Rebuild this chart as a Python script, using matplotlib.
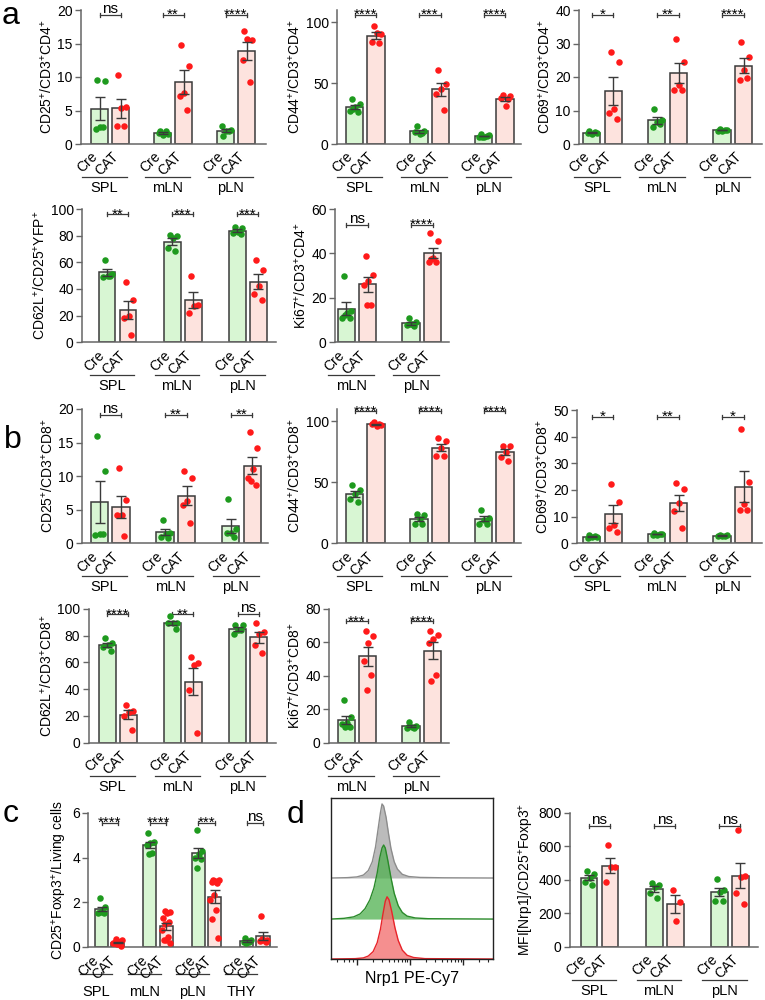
import numpy as np
import matplotlib
matplotlib.use('Agg')
import matplotlib.pyplot as plt
from matplotlib.transforms import offset_copy

plt.rcParams['font.family'] = ['Liberation Sans', 'DejaVu Sans']
plt.rcParams['mathtext.fontset'] = 'custom'
plt.rcParams['mathtext.rm'] = 'Liberation Sans'
plt.rcParams['mathtext.it'] = 'Liberation Sans:italic'
plt.rcParams['mathtext.bf'] = 'Liberation Sans:bold'

W, H = 765, 1000

# ---------------- data ----------------
GENOTYPES = ['Cre', 'CAT']
TISSUES_3 = ['SPL', 'mLN', 'pLN']
TISSUES_2 = ['mLN', 'pLN']
TISSUES_4 = ['SPL', 'mLN', 'pLN', 'THY']

# panel a (CD4)
a_cd25_cre = [[9.6, 9.4, 2.6, 2.3, 2.5], [2.0, 1.5, 1.4, 1.6, 1.9], [1.2, 2.1, 2.0, 2.7, 1.9]]
a_cd25_cat = [[10.3, 5.5, 5.3, 2.7, 2.7], [14.8, 11.7, 7.6, 7.2, 5.1], [16.8, 15.5, 15.6, 12.5, 9.2]]
a_cd25_sig = ['ns', '**', '****']

a_cd44_cre = [[37, 33, 30, 27, 26, 29], [15, 11, 8, 10, 9], [8, 7, 6, 6, 6.5, 6]]
a_cd44_cat = [[97, 90, 91, 84, 83], [61, 49, 45, 41, 28], [40, 39, 31, 38, 37]]
a_cd44_sig = ['****', '***', '****']

a_cd69_cre = [[4.0, 3.3, 3.0, 3.2, 3.5], [10.4, 7.2, 6.5, 5.0, 6.0], [4.5, 4.2, 4.0, 3.8, 4.3]]
a_cd69_cat = [[27.4, 24.6, 10.4, 9.2, 7.4], [31.4, 24.4, 17.6, 16.1, 16.1], [30.4, 25.9, 22.0, 19.1, 19.6]]
a_cd69_sig = ['*', '**', '****']

a_cd62l_cre = [[62, 51, 50, 49, 50], [80.5, 80, 78.5, 70.5, 68.5], [86.5, 86, 83, 82, 81]]
a_cd62l_cat = [[45.5, 31.5, 20, 18.5, 5.5], [50, 28, 27, 22], [62, 54.5, 42.5, 36, 32]]
a_cd62l_sig = ['**', '***', '***']

a_ki67_cre = [[29.8, 14.2, 13, 10.8, 10.8, 12.5], [10.8, 9.2, 8.2, 7.6, 7.2, 8.2]]
a_ki67_cat = [[39, 30.5, 27.5, 26, 17, 17], [49, 45.5, 37.8, 36, 36, 37.5]]
a_ki67_sig = ['ns', '****']

# panel b (CD8)
b_cd25_cre = [[16, 10.8, 1.35, 1.3, 1.35], [3.5, 1.6, 1.4, 1.0, 0.8], [6.6, 2.1, 1.6, 1.5, 0.9]]
b_cd25_cat = [[11.2, 6.5, 4.2, 4.2, 1.1], [10.8, 9.7, 6.3, 5.7, 3.0], [16.6, 14.2, 11.0, 9.7, 8.7, 9.3]]
b_cd25_sig = ['ns', '**', '**']

b_cd44_cre = [[47.5, 43.5, 40, 36, 33.5], [24.3, 23.5, 20, 15.7, 15.7], [27.6, 21, 19, 16.2, 16.2]]
b_cd44_cat = [[99, 97, 96, 97.5, 98], [86, 84, 78, 71.6, 71.6], [80, 79.5, 75, 71, 67]]
b_cd44_sig = ['****', '****', '****']

b_cd69_cre = [[3.0, 2.5, 2.2, 2.0, 2.6], [3.8, 3.5, 3.3, 3.2, 3.4], [3.2, 3.0, 2.8, 2.6, 2.9]]
b_cd69_cat = [[22.1, 15.5, 6.9, 5.9, 4.4], [22.75, 20.25, 15, 12.1, 5.9], [43, 23, 14.75, 12.5, 12.5]]
b_cd69_sig = ['*', '**', '*']

b_cd62l_cre = [[78.5, 74.5, 73.2, 71.5, 68.7], [94.7, 89.8, 89.8, 89.8, 84.8], [88, 88, 84.3, 81.3, 84]]
b_cd62l_cat = [[28.25, 23.75, 23.25, 20, 9.5], [64, 59.5, 58.25, 39.5, 7.5], [89.5, 83, 81, 73, 67]]
b_cd62l_sig = ['****', '**', 'ns']

b_ki67_cre = [[25.6, 15.2, 12, 11, 9.2, 9.2], [12.5, 10, 9.5, 9, 8.8]]
b_ki67_cat = [[66.6, 64, 59.6, 48.6, 40.6, 31.6], [66.6, 64.2, 62, 59.6, 40.6, 37.2]]
b_ki67_sig = ['***', '****']

# panel c (Treg frequency)
c_treg_cre = [[2.2, 1.8, 1.6, 1.5, 1.5, 1.55], [5.1, 4.7, 4.65, 4.55, 4.2, 4.15],
              [5.25, 4.3, 4.15, 4.0, 3.95, 3.55], [0.4, 0.3, 0.25, 0.2, 0.2, 0.15]]
c_treg_cat = [[0.35, 0.3, 0.2, 0.15, 0.1, 0.1, 0.15, 0.2, 0.25, 0.05],
              [1.6, 1.55, 1.5, 1.3, 1.1, 1.0, 0.75, 0.45, 0.3, 0.15, 0.3],
              [3.0, 3.0, 2.95, 2.9, 2.85, 2.3, 2.1, 1.65, 1.25, 0.4],
              [1.4, 0.3, 0.3, 0.25, 0.2, 0.35]]
c_treg_sig = ['****', '****', '***', 'ns']

# panel d (Nrp1 MFI)
d_mfi_cre = [[455, 435, 410, 390, 370], [380, 370, 360, 320, 290], [404, 340, 330, 276, 276]]
d_mfi_cat = [[606, 474, 474, 388], [340, 266, 156], [700, 426, 420, 320, 256]]
d_mfi_sig = ['ns', 'ns', 'ns']

# panel d histograms (x: position across plot 0-100, y: % of mode)
hist_gray_x = [0, 10, 16, 20, 23, 25.5, 27.5, 29, 30.5, 31.5, 32.5, 34, 35.5, 37, 39, 41, 44, 48, 55, 70, 100]
hist_gray_y = [0, 0.5, 1.5, 4, 10, 22, 42, 65, 88, 100, 97, 82, 60, 40, 22, 12, 5, 2, 0.8, 0.3, 0]
hist_green_x = [0, 8, 14, 18, 21, 24, 26.5, 28.5, 30, 31.5, 32.5, 33.5, 35, 37, 39, 41.5, 44, 47, 52, 60, 100]
hist_green_y = [0, 1, 3, 7, 14, 26, 42, 62, 82, 96, 100, 96, 80, 56, 35, 18, 9, 4, 1.5, 0.5, 0]
hist_red_x = [0, 15, 20, 23, 26, 28.5, 30.5, 32, 33.5, 34.6, 35.8, 37.5, 39.5, 41.5, 44, 47, 51, 58, 100]
hist_red_y = [0, 0.5, 1.5, 4, 10, 22, 40, 60, 78, 84, 80, 64, 42, 25, 12, 5, 2, 0.5, 0]

# ---------------- style ----------------
CRE_FILL = '#d8f6d3'
CAT_FILL = '#fde3de'
CRE_DOT = '#1e9a1e'
CAT_DOT = '#ff1a1a'
EDGE = '#3a3a3a'
AXC = '#666666'
FS_TICK = 10
FS_LAB = 10
FS_GENO = 10
FS_GROUP = 10.5
FS_SIG = 11

fig = plt.figure(figsize=(W / 100, H / 100), dpi=100)


def jitter(n):
    i = np.arange(n)
    return ((i * 0.618 + 0.31) % 1.0 - 0.5) * 0.56


def bar_panel(geom, tissues, cre, cat, sig, ylabel, yticks,
              line_px=33, text_px=44, span=(0.83, 0.3), geo_off=(0.5, -4.0)):
    left, right, zero, top, c0, u, step, ymax, br = geom
    ax = fig.add_axes([left / W, 1 - zero / H, (right - left) / W, (zero - top) / H])
    ax.set_xlim((left - c0) / u, (right - c0) / u)
    ax.set_ylim(0, ymax)
    ppu = (zero - top) / ymax
    for s in ['top', 'right']:
        ax.spines[s].set_visible(False)
    for s in ['left', 'bottom']:
        ax.spines[s].set_color(AXC)
        ax.spines[s].set_linewidth(1.1)
    ax.set_xticks([])
    ax.set_yticks(yticks)
    ax.tick_params(axis='y', direction='out', length=4, width=1.0, color=AXC,
                   labelsize=FS_TICK, pad=2)
    ax.set_ylabel(ylabel, fontsize=FS_LAB, labelpad=2)
    tline = offset_copy(ax.get_xaxis_transform(), fig=fig, x=0, y=-line_px, units='dots')
    ttext = offset_copy(ax.get_xaxis_transform(), fig=fig, x=0, y=-text_px, units='dots')
    for g, tissue in enumerate(tissues):
        xc = g * step
        for k, (vals, fill, dot) in enumerate([(cre[g], CRE_FILL, CRE_DOT),
                                               (cat[g], CAT_FILL, CAT_DOT)]):
            x = xc + k
            v = np.asarray(vals, float)
            m = v.mean()
            se = v.std(ddof=1) / np.sqrt(len(v))
            ax.bar(x, m, width=0.8, color=fill, edgecolor=EDGE, linewidth=1.1, zorder=2)
            ax.scatter(x + jitter(len(v)), v, s=22, color=dot, linewidths=0,
                       zorder=3, clip_on=False)
            ax.errorbar(x, m, yerr=se, fmt='none', ecolor=EDGE, elinewidth=1.0,
                        capsize=3.5, capthick=1.0, zorder=4)
            ax.annotate(GENOTYPES[k], xy=(x, 0), xytext=geo_off,
                        textcoords='offset points', ha='right', va='top',
                        rotation=45, fontsize=FS_GENO, annotation_clip=False)
        # group underline and label
        x0, x1 = xc - span[0], xc + 1 + span[1]
        ax.plot([x0, x1], [0, 0], color=EDGE, lw=0.9, transform=tline, clip_on=False)
        ax.text((x0 + x1) / 2, 0, tissue, transform=ttext, ha='center', va='center',
                fontsize=FS_GROUP, clip_on=False)
        # significance bracket
        t = 2.0 / ppu
        ax.plot([xc, xc], [br - t, br + t], color=EDGE, lw=0.9, clip_on=False)
        ax.plot([xc + 1, xc + 1], [br - t, br + t], color=EDGE, lw=0.9, clip_on=False)
        ax.plot([xc, xc + 1], [br, br], color=EDGE, lw=0.9, clip_on=False)
        off = 2.0 if sig[g] == 'ns' else -4.0
        ax.annotate(sig[g], xy=(xc + 0.5, br), xytext=(0, off * 0.72),
                    textcoords='offset points', ha='center', va='baseline',
                    fontsize=FS_SIG, annotation_clip=False)
    return ax


# geometry: left, right, zero_y, top_y, first_center_x, unit_px, group_step, ymax, bracket_y
bar_panel((81, 266, 144, 10, 99.5, 21, 3.0, 20, 19.25), TISSUES_3, a_cd25_cre, a_cd25_cat,
          a_cd25_sig, 'CD25$^{+}$/CD3$^{+}$CD4$^{+}$', [0, 5, 10, 15, 20])
bar_panel((337, 521, 144, 10, 354.5, 21.5, 3.0, 110, 106), TISSUES_3, a_cd44_cre, a_cd44_cat,
          a_cd44_sig, 'CD44$^{+}$/CD3$^{+}$CD4$^{+}$', [0, 50, 100])
bar_panel((579, 762, 144, 10, 591.7, 21.7, 3.0, 40, 38.5), TISSUES_3, a_cd69_cre, a_cd69_cat,
          a_cd69_sig, 'CD69$^{+}$/CD3$^{+}$CD4$^{+}$', [0, 10, 20, 30, 40])
bar_panel((82, 276, 342.3, 209, 107, 21, 3.1, 100, 96), TISSUES_3, a_cd62l_cre, a_cd62l_cat,
          a_cd62l_sig, 'CD62L$^{+}$/CD25$^{+}$YFP$^{+}$', [0, 20, 40, 60, 80, 100])
bar_panel((335, 449, 342.3, 209, 346.2, 21.6, 3.0, 60, 52.7), TISSUES_2, a_ki67_cre, a_ki67_cat,
          a_ki67_sig, 'Ki67$^{+}$/CD3$^{+}$CD4$^{+}$', [0, 20, 40, 60])

bar_panel((82, 268, 543.3, 409, 99.5, 21.5, 3.05, 20, 19.1), TISSUES_3, b_cd25_cre, b_cd25_cat,
          b_cd25_sig, 'CD25$^{+}$/CD3$^{+}$CD8$^{+}$', [0, 5, 10, 15, 20])
bar_panel((337, 521, 543.3, 409, 354.5, 21.5, 3.0, 110, 108), TISSUES_3, b_cd44_cre, b_cd44_cat,
          b_cd44_sig, 'CD44$^{+}$/CD3$^{+}$CD8$^{+}$', [0, 50, 100])
bar_panel((577, 762, 543.3, 410, 591.7, 21.7, 3.0, 50, 47.5), TISSUES_3, b_cd69_cre, b_cd69_cat,
          b_cd69_sig, 'CD69$^{+}$/CD3$^{+}$CD8$^{+}$', [0, 10, 20, 30, 40, 50])
bar_panel((88.5, 276, 742.7, 609, 107.3, 21, 3.1, 100, 96), TISSUES_3, b_cd62l_cre, b_cd62l_cat,
          b_cd62l_sig, 'CD62L$^{+}$/CD3$^{+}$CD8$^{+}$', [0, 20, 40, 60, 80, 100])
bar_panel((329, 449, 742.7, 609, 346.2, 21.6, 3.0, 80, 72.6), TISSUES_2, b_ki67_cre, b_ki67_cat,
          b_ki67_sig, 'Ki67$^{+}$/CD3$^{+}$CD8$^{+}$', [0, 20, 40, 60, 80])

bar_panel((88.3, 277, 946.7, 813, 101.5, 16.4, 2.95, 6, 5.57), TISSUES_4, c_treg_cre, c_treg_cat,
          c_treg_sig, 'CD25$^{+}$Foxp3$^{+}$/Living cells', [0, 2, 4, 6],
          line_px=27, text_px=45, span=(1.33, -0.35), geo_off=(0.0, -4.5))
bar_panel((570, 758, 946.7, 813, 589, 21, 3.1, 800, 720), TISSUES_3, d_mfi_cre, d_mfi_cat,
          d_mfi_sig, 'MFI[Nrp1]/CD25$^{+}$Foxp3$^{+}$', [0, 200, 400, 600, 800])

# ---------------- histogram panel ----------------
axh = fig.add_axes([331 / W, 1 - 959 / H, 162 / W, 161 / H])
axh.set_xlim(0, 100)
axh.set_ylim(0, 100)
SCALE = 0.46
for xs, ys, base, fc, ec, al in [
        (hist_gray_x, hist_gray_y, 50.3, '#b4b4b4', '#8c8c8c', 0.9),
        (hist_green_x, hist_green_y, 24.8, '#4fb04f', '#2a8a2a', 0.75),
        (hist_red_x, hist_red_y, 0.0, '#f26a6a', '#e8242a', 0.75)]:
    xs = np.asarray(xs, float)
    yv = base + np.asarray(ys, float) * SCALE
    axh.fill_between(xs, base, yv, color=fc, alpha=al, linewidth=0)
    axh.plot(xs, yv, color=ec, lw=1.0)
for s in axh.spines.values():
    s.set_color('#222222')
    s.set_linewidth(1.0)
axh.set_yticks([])
majors = [16, 48.8, 81.5]
minors = [4, 8, 11, 13.5]
for d0 in majors:
    for kk in range(2, 10):
        p = d0 + 32.7 * np.log10(kk)
        if p < 100:
            minors.append(p)
axh.set_xticks(majors)
axh.set_xticks(minors, minor=True)
axh.tick_params(axis='x', which='major', length=4, width=1, labelbottom=False, color='#222222')
axh.tick_params(axis='x', which='minor', length=2.5, width=0.8, color='#222222')
fig.text(412 / W, 1 - 978 / H, 'Nrp1 PE-Cy7', ha='center', va='center', fontsize=11.5)

# ---------------- panel letters ----------------
for lab, xp, yp in [('a', 2, 24), ('b', 4, 448), ('c', 3, 822), ('d', 287, 823)]:
    fig.text(xp / W, 1 - yp / H, lab, fontsize=23, ha='left', va='baseline')

fig.savefig('out.png', dpi=100)
